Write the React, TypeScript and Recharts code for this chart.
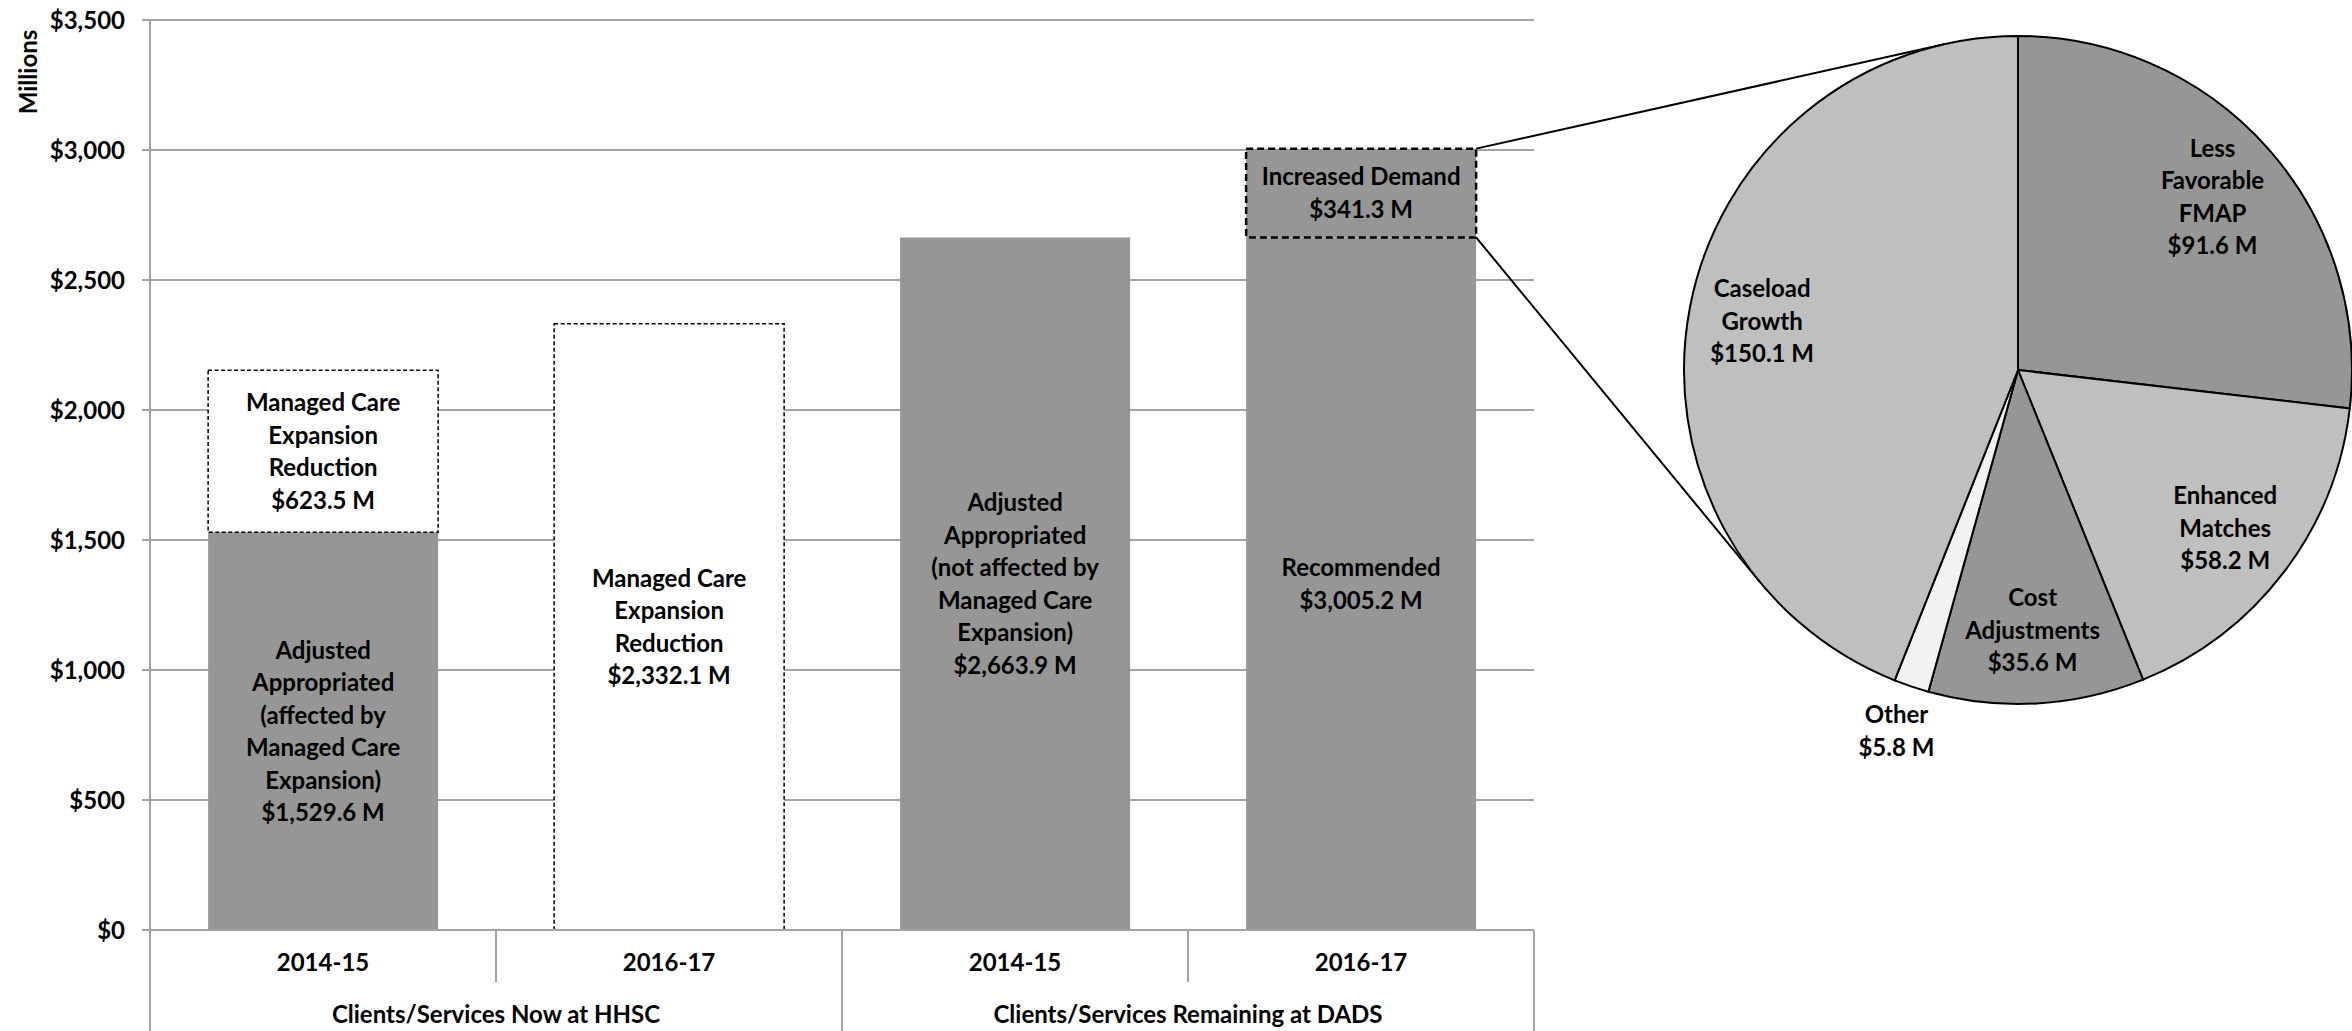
import React from 'react';
import { BarChart, Bar, XAxis, YAxis, CartesianGrid, LabelList, Label, PieChart, Pie, Cell } from 'recharts';

const FONT = 'Lato, "Open Sans", sans-serif';
const FONT_SIZE = 24;
const LINE_H = 32.5;
const GRID = '#a3a3a3';
const BAR_GREY = '#969696';

// bar chart data
const slots = ['hhsc-2014', 'hhsc-2016', 'dads-2014', 'dads-2016'];
const years = ['2014-15', '2016-17', '2014-15', '2016-17'];
const groupNames = ['Clients/Services Now at HHSC', 'Clients/Services Remaining at DADS'];
const baseValues = [1529.6, 0, 2663.9, 2663.9];
const reductionValues = [623.5, 2332.1, 0, 0];
const increaseValues = [0, 0, 0, 341.3];
const yTicks = [0, 500, 1000, 1500, 2000, 2500, 3000, 3500];

const baseLabels = [
  ['Adjusted', 'Appropriated', '(affected by', 'Managed Care', 'Expansion)', '$1,529.6 M'],
  [],
  ['Adjusted', 'Appropriated', '(not affected by', 'Managed Care', 'Expansion)', '$2,663.9 M'],
  ['Recommended', '$3,005.2 M'],
];
const reductionLabels = [
  ['Managed Care', 'Expansion', 'Reduction', '$623.5 M'],
  ['Managed Care', 'Expansion', 'Reduction', '$2,332.1 M'],
  [],
  [],
];
const increaseLabels = [[], [], [], ['Increased Demand', '$341.3 M']];

// pie data (breakdown of the increased demand)
const pieNames = ['Less Favorable FMAP', 'Enhanced Matches', 'Cost Adjustments', 'Other', 'Caseload Growth'];
const pieValues = [91.6, 58.2, 35.6, 5.8, 150.1];
const pieLabelLines = [['Less', 'Favorable', 'FMAP'], ['Enhanced', 'Matches'], ['Cost', 'Adjustments'], ['Other'], ['Caseload', 'Growth']];
const pieColors = ['#969696', '#bfbfbf', '#969696', '#f2f2f2', '#bfbfbf'];

const barData = slots.map((slot, i) => ({
  slot,
  idx: i,
  base: baseValues[i],
  reduction: reductionValues[i],
  increase: increaseValues[i],
}));
const pieData = pieNames.map((name, i) => ({ name, value: pieValues[i] }));

// pie geometry (page coords: pie chart box sits at PIE_LEFT, 0)
const PIE_LEFT = 1650;
const PIE_W = 702;
const PIE_H = 780;
const PIE_CX = 368;
const PIE_CY = 370;
const PIE_R = 334;

const Lines = ({ x, y, lines }: { x: number; y: number; lines: string[] }) => (
  <text textAnchor="middle" fontFamily={FONT} fontSize={FONT_SIZE} fontWeight={700} fill="#000">
    {lines.map((l, i) => (
      <tspan key={i} x={x} y={y + (i - (lines.length - 1) / 2) * LINE_H} dy="0.36em">
        {l}
      </tspan>
    ))}
  </text>
);

const rectOf = (p: any) => {
  const vb = p.viewBox && p.viewBox.width != null ? p.viewBox : p;
  const h = Number(vb.height) || 0;
  return { x: Number(vb.x), y: Math.min(Number(vb.y), Number(vb.y) + h), width: Number(vb.width), height: Math.abs(h) };
};

// LabelList dataKey is "idx", so value is the row index
const barLabel = (labels: string[][]) => (p: any) => {
  const lines = labels[Number(p.value)];
  const r = rectOf(p);
  if (!lines || !lines.length || !r.height) return null;
  return <Lines x={r.x + r.width / 2} y={r.y + r.height / 2} lines={lines} />;
};

// tangent point on the pie circle from an outside point
const tangent = (px: number, py: number, upper: boolean) => {
  const cx = PIE_LEFT + PIE_CX;
  const cy = PIE_CY;
  const d = Math.hypot(px - cx, py - cy);
  const base = Math.atan2(py - cy, px - cx);
  const a = Math.acos(PIE_R / d);
  const p1 = { x: cx + PIE_R * Math.cos(base + a), y: cy + PIE_R * Math.sin(base + a) };
  const p2 = { x: cx + PIE_R * Math.cos(base - a), y: cy + PIE_R * Math.sin(base - a) };
  return upper ? (p1.y < p2.y ? p1 : p2) : (p1.y > p2.y ? p1 : p2);
};

const connectors = (p: any) => {
  const r = rectOf(p);
  if (!increaseValues[Number(p.value)] || !r.height) return null;
  const right = r.x + r.width;
  const t1 = tangent(right, r.y, true);
  const t2 = tangent(right, r.y + r.height, false);
  return (
    <g>
      <line x1={right} y1={r.y} x2={t1.x} y2={t1.y} stroke="#000" strokeWidth={2} />
      <line x1={right} y1={r.y + r.height} x2={t2.x} y2={t2.y} stroke="#000" strokeWidth={2} />
    </g>
  );
};

const CategoryTick = (props: any) => {
  const { x, y, payload } = props;
  const i = payload?.index ?? props.index ?? 0;
  const half = payload?.offset > 0 ? payload.offset : 173;
  const firstInGroup = i % 2 === 0;
  const left = x - half;
  const right = x + half;
  const txt = { textAnchor: 'middle' as const, fontFamily: FONT, fontSize: FONT_SIZE, fontWeight: 700, fill: '#000' };
  return (
    <g>
      <line x1={left} x2={left} y1={y} y2={y + (firstInGroup ? 101 : 52)} stroke={GRID} strokeWidth={2} />
      {i === slots.length - 1 && <line x1={right} x2={right} y1={y} y2={y + 101} stroke={GRID} strokeWidth={2} />}
      <text x={x} y={y + 32} dy="0.36em" {...txt}>
        {years[i]}
      </text>
      {firstInGroup && (
        <text x={right} y={y + 84} dy="0.36em" {...txt}>
          {groupNames[i / 2]}
        </text>
      )}
    </g>
  );
};

const pieLabel = (p: any) => {
  const rad = Math.PI / 180;
  const k = p.percent < 0.05 ? 1.14 : 0.78;
  const x = p.cx + p.outerRadius * k * Math.cos(-p.midAngle * rad);
  const y = p.cy + p.outerRadius * k * Math.sin(-p.midAngle * rad);
  const lines = [...pieLabelLines[p.index], `$${pieValues[p.index].toFixed(1)} M`];
  return <Lines x={x} y={y} lines={lines} />;
};

export default function App() {
  return (
    <div style={{ position: 'absolute', left: 0, top: 0, width: 2352, height: 1031, overflow: 'hidden', background: '#fff' }}>
      <div style={{ position: 'absolute', left: 0, top: 0 }}>
        <BarChart width={2352} height={1031} data={barData} margin={{ top: 20, right: 818, left: 20, bottom: 0 }} barCategoryGap="16.8%">
          <CartesianGrid vertical={false} stroke={GRID} strokeWidth={2} />
          <XAxis
            dataKey="slot"
            height={101}
            interval={0}
            tickSize={0}
            tickMargin={0}
            tickLine={false}
            axisLine={{ stroke: GRID, strokeWidth: 2 }}
            tick={<CategoryTick />}
          />
          <YAxis
            width={130}
            domain={[0, 3500]}
            ticks={yTicks}
            interval={0}
            tickSize={8}
            tickMargin={17}
            tickLine={{ stroke: GRID, strokeWidth: 2 }}
            axisLine={{ stroke: GRID, strokeWidth: 2 }}
            tickFormatter={(v: number) => `$${v.toLocaleString('en-US')}`}
            tick={{ fill: '#000', fontFamily: FONT, fontSize: FONT_SIZE, fontWeight: 700 }}
          >
            <Label
              content={(p: any) => {
                const vb = p.viewBox || { x: 20, y: 20 };
                const lx = vb.x + 8;
                const ly = vb.y + 52;
                return (
                  <text x={lx} y={ly} transform={`rotate(-90, ${lx}, ${ly})`} textAnchor="middle" dy="0.36em" fontFamily={FONT} fontSize={FONT_SIZE} fontWeight={700} fill="#000">
                    Millions
                  </text>
                );
              }}
            />
          </YAxis>
          <Bar dataKey="base" stackId="a" fill={BAR_GREY} isAnimationActive={false}>
            <LabelList dataKey="idx" content={barLabel(baseLabels)} />
          </Bar>
          <Bar dataKey="reduction" stackId="a" fill="#fff" stroke="#000" strokeWidth={1.5} strokeDasharray="4 2.5" isAnimationActive={false}>
            <LabelList dataKey="idx" content={barLabel(reductionLabels)} />
          </Bar>
          <Bar dataKey="increase" stackId="a" fill={BAR_GREY} stroke="#000" strokeWidth={2.5} strokeDasharray="7 4" isAnimationActive={false}>
            <LabelList dataKey="idx" content={connectors} />
            <LabelList dataKey="idx" content={barLabel(increaseLabels)} />
          </Bar>
        </BarChart>
      </div>
      <div style={{ position: 'absolute', left: PIE_LEFT, top: 0 }}>
        <PieChart width={PIE_W} height={PIE_H} margin={{ top: 0, right: 0, bottom: 0, left: 0 }}>
          <Pie
            data={pieData}
            dataKey="value"
            nameKey="name"
            cx={PIE_CX}
            cy={PIE_CY}
            outerRadius={PIE_R}
            startAngle={90}
            endAngle={-270}
            stroke="#000"
            strokeWidth={2}
            label={pieLabel}
            labelLine={false}
            isAnimationActive={false}
          >
            {pieData.map((d, i) => (
              <Cell key={d.name} fill={pieColors[i]} />
            ))}
          </Pie>
        </PieChart>
      </div>
    </div>
  );
}
